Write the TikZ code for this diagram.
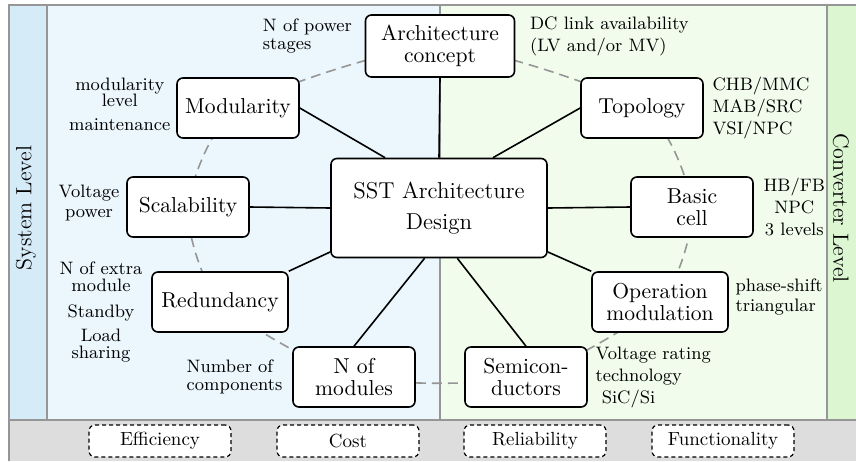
\documentclass[tikz,border=0pt]{standalone}
\usepackage{fontspec}
\usetikzlibrary{positioning,backgrounds}
\definecolor{sysband}{RGB}{214,235,248}
\definecolor{syspanel}{RGB}{235,246,253}
\definecolor{convpanel}{RGB}{241,252,237}
\definecolor{convband}{RGB}{219,246,209}
\definecolor{bottomgray}{RGB}{221,221,221}
\definecolor{framegray}{RGB}{150,150,150}
\begin{document}
\begin{tikzpicture}[x=0.5pt,y=-0.5pt,thick,
    main node/.style={draw,fill=white,rounded corners=3pt,align=center,
      minimum width=61pt,minimum height=30pt,inner sep=2pt,
      font=\fontsize{10.8}{11}\selectfont},
    note/.style={align=left,inner sep=1pt,font=\fontsize{9}{11}\selectfont},
    crit/.style={draw,fill=white,rounded corners=3pt,line width=0.6pt,
      dash pattern=on 2pt off 1.5pt,minimum width=71pt,minimum height=16pt,
      font=\fontsize{9.5}{11}\selectfont},
    levels/.style={font=\fontsize{11}{13}\selectfont},
    frame/.style={draw=framegray,line width=1.2pt}]
  \useasboundingbox (0,0) rectangle (856,461);

  \node[levels,rotate=90] (syslevel) at (26,208) {System Level};
  \node[levels,rotate=-90] (convlevel) at (841,208) {Converter Level};

  \node[main node,minimum width=108pt,minimum height=49.5pt,
    font=\fontsize{11.5}{12}\selectfont] (sst) at (439,208) {SST Architecture\\[3.5pt]Design};
  \node[main node,minimum width=74.5pt,minimum height=31pt] (arch) at (440,46) {Architecture\\concept};
  \node[main node] (mod) at (238,108) {Modularity};
  \node[main node] (scal) at (188,207) {Scalability};
  \node[main node,minimum width=68pt] (red) at (220,302) {Redundancy};
  \node[main node] (nmod) at (354,377) {N of\\modules};
  \node[main node] (topo) at (642,108) {Topology};
  \node[main node] (cell) at (692,207) {Basic\\cell};
  \node[main node,minimum width=68pt] (opmod) at (660,302) {Operation\\modulation};
  \node[main node] (semi) at (526,377) {Semicon-\\ductors};

  \node[note,left=5pt of arch,yshift=5pt] (powernote) {N of power\\[-2pt]stages};
  \node[note,right=6pt of arch,yshift=5pt] (dcnote) {DC link availability\\(LV and/or MV)};
  \node[note,align=center,left=1.5pt of mod,yshift=2pt] (modnote) {modularity\\[-3pt]level\\[1pt]maintenance};
  \node[note,align=center,left=2pt of scal,yshift=2pt] (scalnote) {Voltage\\[-1pt]power};
  \node[note,align=center,left=3pt of red,yshift=-5pt] (rednote)
    {N of extra\\[-2.5pt]module\\[2pt]Standby\\[1pt]Load\\[-2.5pt]sharing};
  \node[note,left=3.5pt of nmod] (nmodnote) {Number of\\[-2pt]components};
  \node[note,right=3pt of topo] (toponote) {CHB/MMC\\MAB/SRC\\VSI/NPC};
  \node[note,align=center,right=3.5pt of cell] (cellnote) {HB/FB\\NPC\\3 levels};
  \node[note,right=2pt of opmod,yshift=2.5pt] (opnote) {phase-shift\\[-1pt]triangular};
  \node[note,right=2.5pt of semi] (seminote) {Voltage rating\\technology\\\ SiC/Si};

  \path (sst.north) edge (arch.south)
        (sst.137) edge (mod.east)
        (sst.west) edge (scal.east)
        (sst.202) edge (red.north east)
        (sst.254) edge (nmod.north)
        (sst.290) edge (semi.north)
        (sst.338) edge (opmod.north west)
        (sst.east) edge (cell.west)
        (sst.43) edge (topo.west);

  \begin{scope}[on background layer]
    \fill[sysband] (9,5) rectangle (47,420);
    \fill[syspanel] (47,5) rectangle (440,420);
    \fill[convpanel] (440,5) rectangle (827,420);
    \fill[convband] (827,5) rectangle (856,420);
    \fill[bottomgray] (9,420) rectangle (856,461);
    \draw[frame] (856,5) -- (9,5) -- (9,461);
    \draw[frame] (9,420) -- (856,420);
    \draw[frame] (47,5) -- (47,420);
    \draw[frame] (440,5) -- (440,420);
    \draw[frame] (827,5) -- (827,420);
    \draw[framegray,line width=0.8pt,dash pattern=on 5pt off 3pt]
      plot[smooth cycle,tension=0.4] coordinates {(arch) (mod) (scal) (red) (nmod)
        (semi) (opmod) (cell) (topo)};
  \end{scope}

  \node[crit] (eff) at (160,441) {Efficiency};
  \node[crit] (cost) at (348,441) {Cost};
  \node[crit] (rel) at (535,441) {Reliability};
  \node[crit] (func) at (723,441) {Functionality};
\end{tikzpicture}
\end{document}
